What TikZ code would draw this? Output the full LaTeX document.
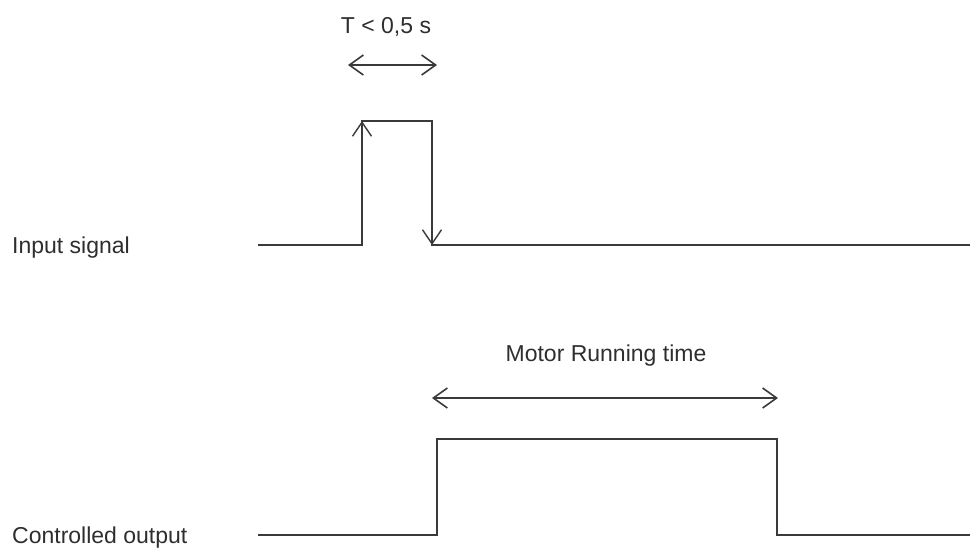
\documentclass[tikz,border=0pt]{standalone}
\usepackage{fontspec}
\setmainfont{Liberation Sans}
\usetikzlibrary{arrows.meta}
\definecolor{wave}{HTML}{3A3A3A}
\definecolor{txt}{HTML}{2E2E2E}
\begin{document}
\begin{tikzpicture}[x=1pt,y=-1pt,
  wire/.style={draw=wave,line width=1.6pt},
  bigtip/.style={-{Straight Barb[length=14pt,width=19pt,line width=1.4pt]}},
  dimarrow/.style={wire,{Straight Barb[length=14pt,width=20pt]}-{Straight Barb[length=14pt,width=20pt]}},
  lbl/.style={text=txt,font=\fontsize{23}{27}\selectfont,inner sep=0pt}]
\useasboundingbox (0,0) rectangle (978,547);
% labels
\node[lbl,anchor=west] (in) at (12,248) {Input signal};
\node[lbl,anchor=west] (out) at (12,538) {Controlled output};
\node[lbl] (tl) at (386,27) {T < 0,5 s};
\node[lbl] (ml) at (606,356) {Motor Running time};
% input waveform
\coordinate (a0) at (258,245);
\coordinate (a1) at (362,245);
\coordinate (a2) at (362,121);
\coordinate (a3) at (432,121);
\coordinate (a4) at (432,245);
\coordinate (a5) at (970,245);
\draw[wire] (a0) -- (a1) -- (a2) -- (a3) -- (a4) -- (a5);
\draw[wire,bigtip] (a1) -- (a2);
\draw[wire,bigtip] (a3) -- (a4);
% controlled output waveform
\coordinate (b0) at (258,535);
\coordinate (b1) at (437,535);
\coordinate (b2) at (437,439);
\coordinate (b3) at (777,439);
\coordinate (b4) at (777,535);
\coordinate (b5) at (970,535);
\draw[wire] (b0) -- (b1) -- (b2) -- (b3) -- (b4) -- (b5);
% dimension arrows
\coordinate (t0) at (348,65);
\coordinate (t1) at (437,65);
\draw[dimarrow] (t0) -- (t1);
\coordinate (m0) at (432,398);
\coordinate (m1) at (778,398);
\draw[dimarrow] (m0) -- (m1);
\end{tikzpicture}
\end{document}
